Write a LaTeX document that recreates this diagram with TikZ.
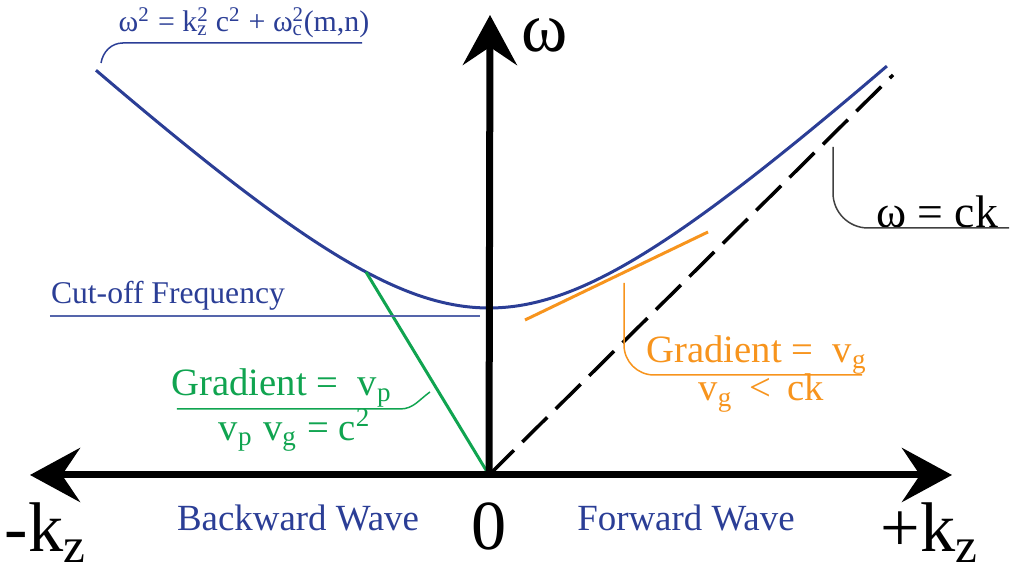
\documentclass[tikz,border=0pt]{standalone}
\usepackage{fontspec}
\setmainfont{Liberation Serif}
\usetikzlibrary{arrows.meta}

\definecolor{curveblue}{RGB}{43,62,150}
\definecolor{vpgreen}{RGB}{16,164,80}
\definecolor{vgorange}{RGB}{247,148,29}
\newcommand{\supsub}[2]{\rlap{\textsuperscript{#1}}\textsubscript{#2}}

\begin{document}
\begin{tikzpicture}[>={Stealth[length=0.5cm,width=0.54cm,inset=0.18cm]},
  axis/.style={line width=0.07cm},
  leader/.style={line width=0.015cm},
  biglabel/.style={font=\fontsize{20}{22}\selectfont},
  wavelabel/.style={text=curveblue, font=\fontsize{10.5}{12}\selectfont},
  gradlabel/.style={font=\fontsize{11}{13}\selectfont, inner sep=0pt}]

\useasboundingbox (-4.89,-0.95) rectangle (5.22,4.75);

% axes
\coordinate (O) at (0,0);
\coordinate (xl) at (-4.59,0);
\coordinate (xr) at (4.63,0);
\coordinate (yt) at (0.01,4.60);
\coordinate (ck) at (4.04,4.0);

% light line w = ck
\draw[line width=0.035cm, dash pattern=on 0.35cm off 0.12cm] (O) -- (ck);

% dispersion curve
\draw[curveblue, line width=0.03cm, domain=-3.93:3.98, samples=80, smooth]
  plot (\x,{sqrt(0.88*\x*\x+1.67*1.67)});

% phase velocity and group velocity
\coordinate (vp) at (-1.23,2.03);
\draw[vpgreen, line width=0.03cm] (O) -- (vp);
\coordinate (vga) at (0.36,1.55);
\coordinate (vgb) at (2.19,2.43);
\draw[vgorange, line width=0.03cm] (vga) -- (vgb);

\draw[axis, <->] (xl) -- (xr);
\draw[axis, ->] (O) -- (yt);

\node[biglabel] (wlab) at (0.56,4.40) {ω};
\node[biglabel] (kneg) at (-4.43,-0.58) {-k\textsubscript{z}};
\node[biglabel] (kpos) at (4.41,-0.58) {+k\textsubscript{z}};
\node[biglabel] (zero) at (0,-0.51) {0};
\node[wavelabel] (back) at (-1.91,-0.43) {Backward Wave};
\node[wavelabel] (fwd) at (1.97,-0.43) {Forward Wave};

% dispersion relation
\node[text=curveblue, font=\fontsize{8.5}{10}\selectfont] (disp) at (-2.45,4.52)
  {ω\textsuperscript{2} = k\supsub{2}{z} c\textsuperscript{2} + ω\supsub{2}{c}(m,n)};
\coordinate (da) at (-1.27,4.32);
\coordinate (db) at (-3.66,4.32);
\coordinate (dc) at (-3.88,4.12);
\draw[curveblue, leader] (da) -- (db) to[out=180,in=80] (dc);

% cut-off
\node[text=curveblue, font=\fontsize{9}{11}\selectfont] (cut) at (-3.21,1.79) {Cut-off Frequency};
\coordinate (ca) at (-4.39,1.59);
\coordinate (cb) at (-0.09,1.59);
\draw[curveblue!80, leader] (ca) -- (cb);

% w = ck
\node[font=\fontsize{13}{15}\selectfont] (cklab) at (4.48,2.63) {ω = ck};
\coordinate (ka) at (3.44,3.28);
\coordinate (kb) at (5.20,2.47);
\draw[black!75, leader, rounded corners=0.35cm] (ka) |- (kb);

% group velocity label
\node[gradlabel, text=vgorange] (vglab) at (2.68,1.20) {Gradient =\ \ v\textsubscript{g}};
\node[gradlabel, text=vgorange] (vgrel) at (2.72,0.82) {v\textsubscript{g} \,<\, ck};
\coordinate (ga) at (1.35,1.92);
\coordinate (gb) at (3.73,1.00);
\draw[vgorange, leader, rounded corners=0.3cm] (ga) |- (gb);

% phase velocity label
\node[gradlabel, text=vpgreen] (vplab) at (-2.07,0.87) {Gradient =\ \ v\textsubscript{p}};
\node[gradlabel, text=vpgreen] (vprel) at (-1.94,0.45) {v\textsubscript{p} v\textsubscript{g} = c\textsuperscript{2}};
\coordinate (pa) at (-3.12,0.66);
\coordinate (pb) at (-0.89,0.66);
\coordinate (pc) at (-0.59,0.83);
\draw[vpgreen, leader] (pa) -- (pb) to[out=0,in=215] (pc);

\end{tikzpicture}
\end{document}
